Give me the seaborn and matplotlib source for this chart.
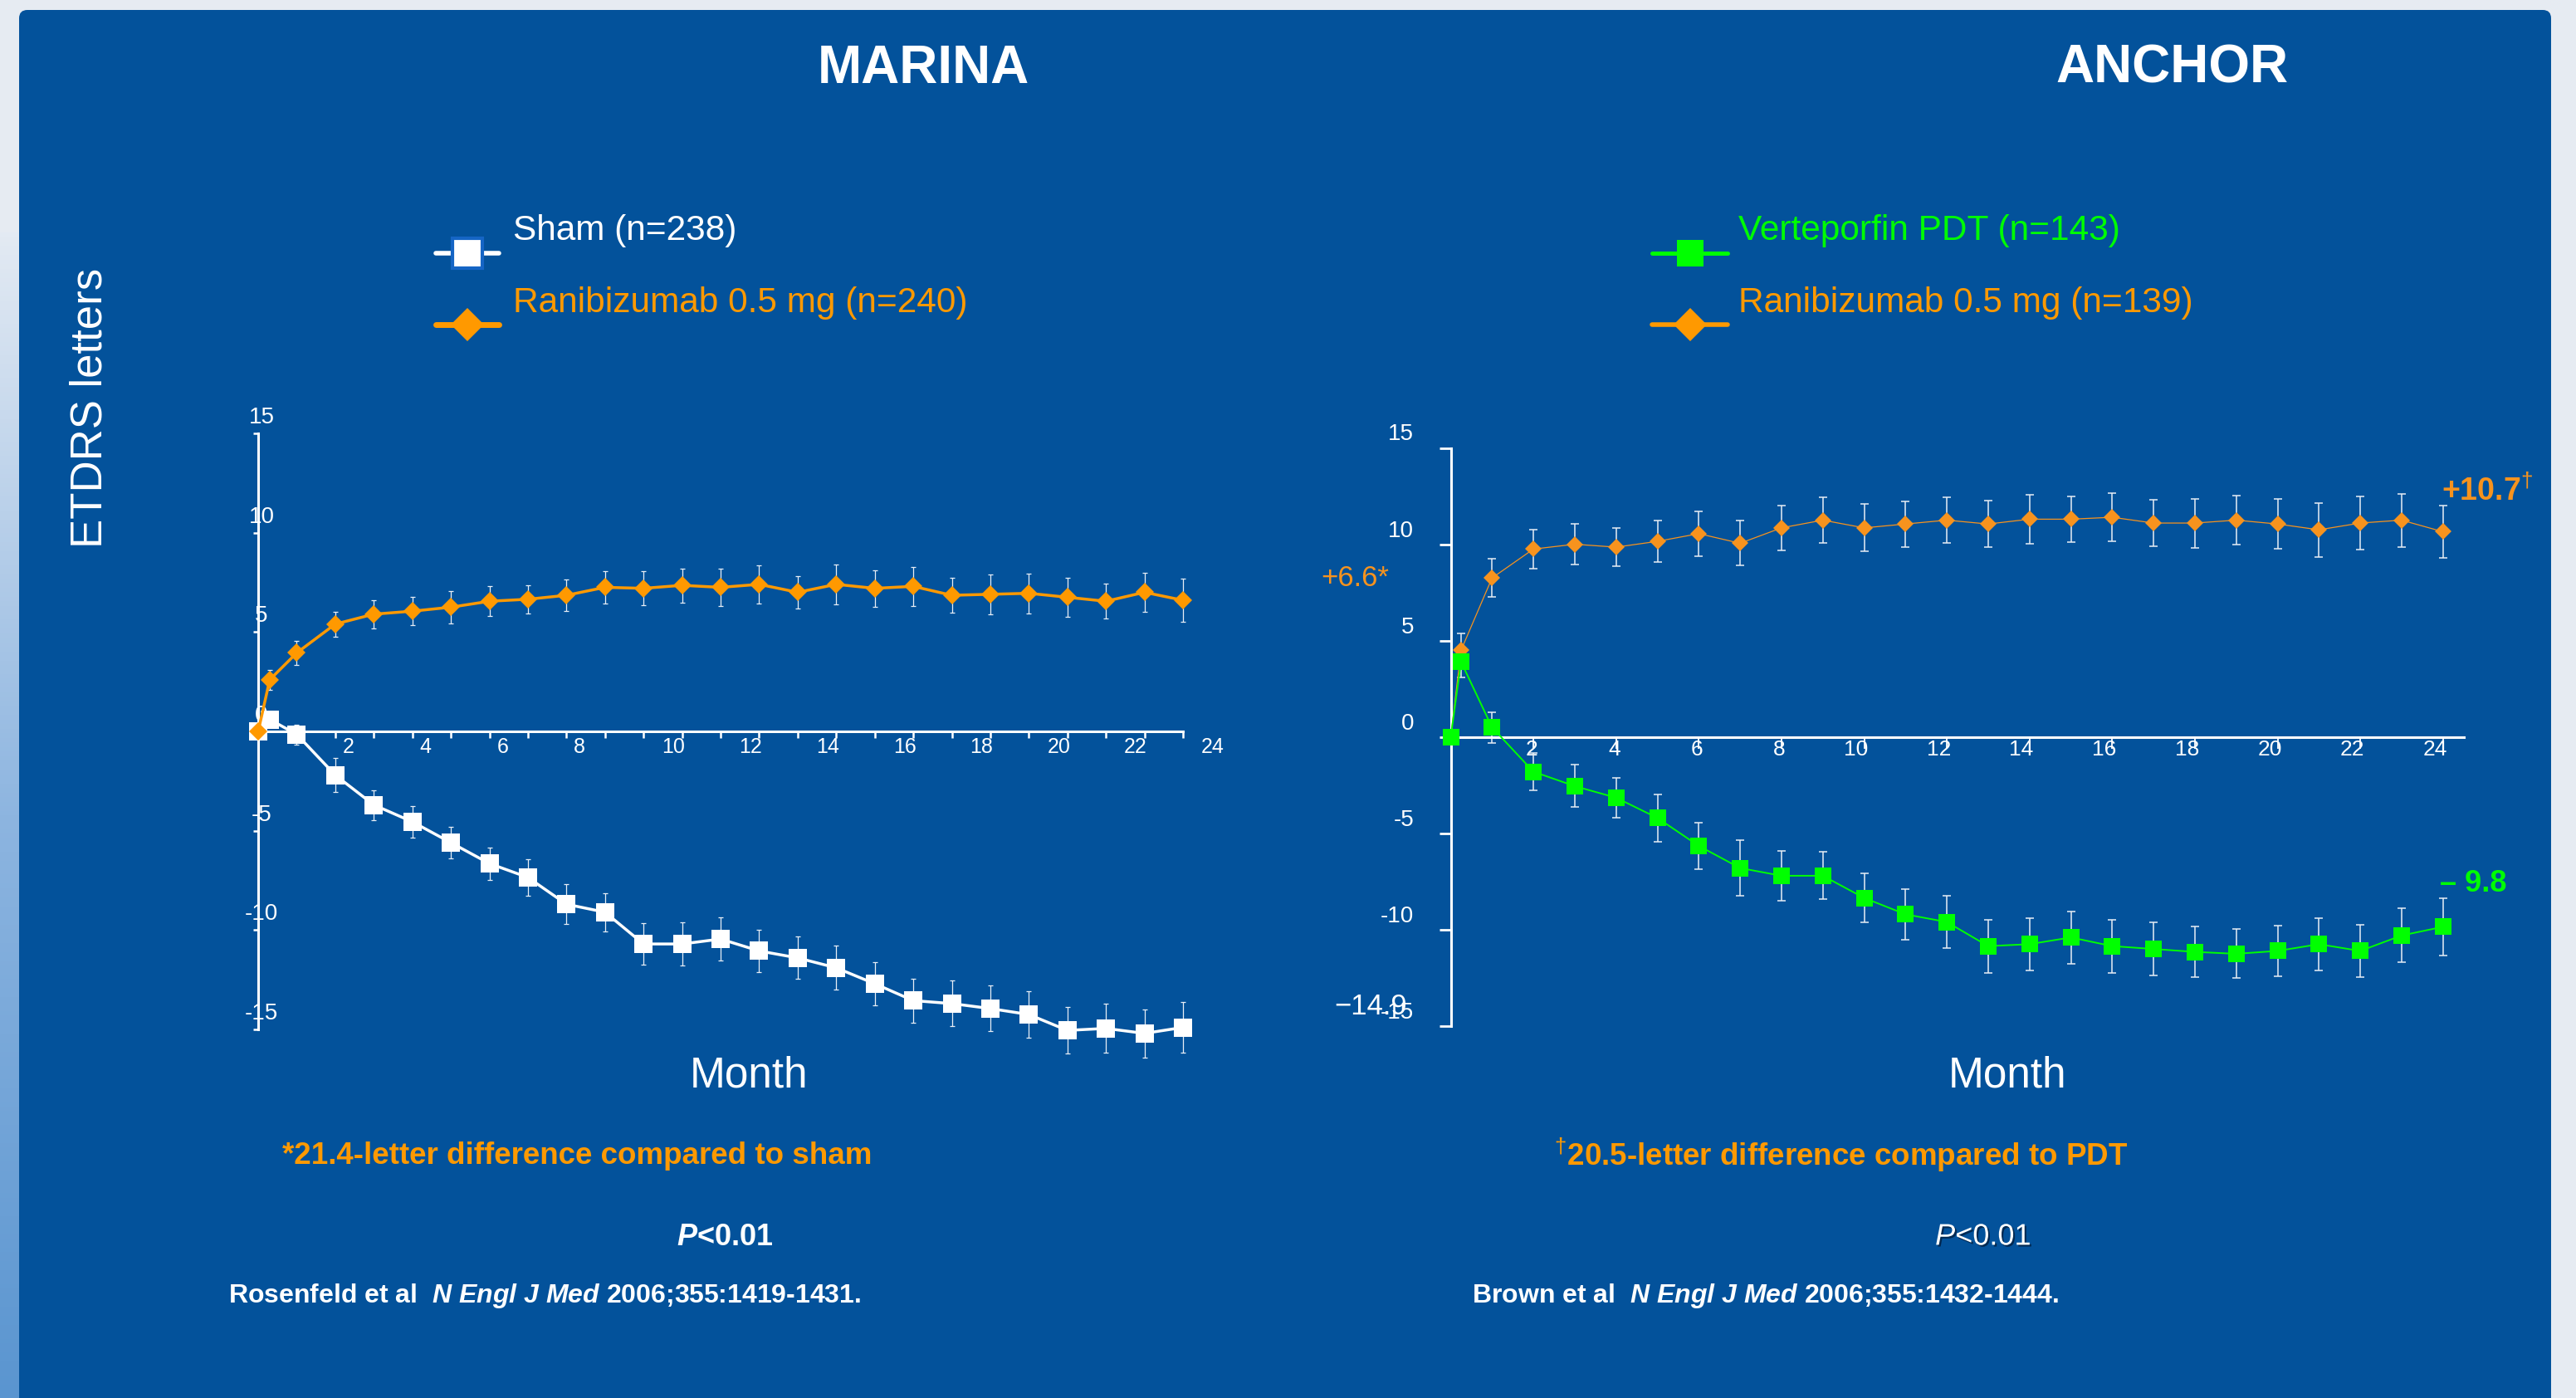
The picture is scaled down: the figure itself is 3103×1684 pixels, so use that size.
import matplotlib
matplotlib.use("Agg")
import matplotlib.patheffects as pe
import matplotlib.pyplot as plt
import numpy as np
import pandas as pd
import seaborn as sns
from matplotlib.colors import LinearSegmentedColormap
from matplotlib.legend_handler import HandlerLine2D
from matplotlib.lines import Line2D
from matplotlib.patches import FancyBboxPatch
from matplotlib.transforms import ScaledTranslation

W, H, DPI = 3103, 1684, 100

PANEL_BLUE = "#03529B"
ORANGE = "#FF9900"
ORANGE2 = "#F7931E"
GREEN = "#00FF00"
BAR_WHITE = "#E8EEF6"

# MARINA (mean change in VA, letters)
marina_months = [0, 0.3] + list(range(1, 25))
marina_sham = [0.0, 0.6, -0.15, -2.2, -3.7, -4.55, -5.6, -6.65, -7.35, -8.7, -9.1, -10.7, -10.7,
               -10.45, -11.05, -11.4, -11.9, -12.7, -13.55, -13.7, -13.95, -14.25, -15.05, -14.95,
               -15.2, -14.9]
marina_sham_err = [0.0, 0.4, 0.5, 0.85, 0.75, 0.8, 0.8, 0.82, 0.92, 1.0, 0.97, 1.03, 1.1, 1.07,
                   1.07, 1.07, 1.1, 1.1, 1.1, 1.15, 1.15, 1.18, 1.18, 1.24, 1.22, 1.27]
marina_rbz = [0.0, 2.6, 3.95, 5.4, 5.9, 6.05, 6.25, 6.55, 6.65, 6.85, 7.25, 7.2, 7.35, 7.25,
              7.4, 7.0, 7.4, 7.2, 7.3, 6.85, 6.9, 6.95, 6.75, 6.55, 7.0, 6.6]
marina_rbz_err = [0.0, 0.5, 0.6, 0.62, 0.72, 0.7, 0.8, 0.75, 0.7, 0.8, 0.8, 0.86, 0.86, 0.94,
                  0.97, 0.82, 1.0, 0.92, 0.99, 0.88, 1.0, 1.0, 1.0, 0.88, 1.0, 1.1]

# ANCHOR
anchor_months = [0, 0.25] + list(range(1, 25))
anchor_pdt = [0.0, 3.9, 0.5, -1.8, -2.55, -3.15, -4.2, -5.65, -6.8, -7.2, -7.2, -8.35, -9.2,
              -9.6, -10.85, -10.75, -10.4, -10.85, -11.0, -11.15, -11.25, -11.1, -10.75, -11.1,
              -10.3, -9.85]
anchor_pdt_err = [0.0, 0.8, 0.8, 0.95, 1.1, 1.05, 1.23, 1.19, 1.45, 1.3, 1.23, 1.27, 1.32, 1.36,
                  1.38, 1.36, 1.36, 1.38, 1.38, 1.3, 1.27, 1.32, 1.36, 1.36, 1.4, 1.47]
anchor_rbz = [0.0, 4.5, 8.25, 9.75, 10.0, 9.85, 10.15, 10.55, 10.05, 10.85, 11.25, 10.85, 11.05,
              11.25, 11.05, 11.3, 11.3, 11.4, 11.1, 11.1, 11.25, 11.05, 10.75, 11.1, 11.25, 10.65]
anchor_rbz_err = [0.0, 0.88, 0.99, 1.0, 1.05, 1.0, 1.08, 1.16, 1.16, 1.16, 1.2, 1.23, 1.19, 1.2,
                  1.2, 1.27, 1.19, 1.25, 1.19, 1.27, 1.27, 1.3, 1.4, 1.36, 1.38, 1.36]

y_ticks = [-15, -10, -5, 0, 5, 10, 15]
y_tick_labels = ["-15", "-10", "-5", "0", "5", "10", "15"]

sns.set_theme(style="white")
plt.rcParams["font.family"] = ["Liberation Sans", "DejaVu Sans"]
plt.rcParams["mathtext.fontset"] = "custom"
plt.rcParams["mathtext.rm"] = "Liberation Sans"
plt.rcParams["mathtext.it"] = "Liberation Sans:italic"
plt.rcParams["mathtext.bf"] = "Liberation Sans:bold"
plt.rcParams["mathtext.bfit"] = "Liberation Sans:italic:bold"


def fx(px):
    return px / W


def fy(py):
    return 1 - py / H


def shift(labels, dx_px, dy_px):
    for lab in labels:
        lab.set_transform(lab.get_transform()
                          + ScaledTranslation(dx_px / DPI, dy_px / DPI, fig.dpi_scale_trans))


class DroppedLine(HandlerLine2D):
    # legend symbol sits a bit below its label, as on the slide
    def create_artists(self, legend, orig_handle, xdescent, ydescent, width, height, fontsize, trans):
        return super().create_artists(legend, orig_handle, xdescent, ydescent + 1.44 * fontsize,
                                      width, height, fontsize, trans)


fig = plt.figure(figsize=(W / DPI, H / DPI), dpi=DPI, facecolor="#E6EBF2")

# slide background
bg = fig.add_axes([0, 0, 1, 1], zorder=-10)
strip = LinearSegmentedColormap.from_list("strip", ["#E3EAF3", "#8DB5E0", "#5A95D0"])
bg.imshow(np.linspace(0, 1, 256).reshape(-1, 1), extent=(0, 23, H, 280), cmap=strip, aspect="auto")
bg.add_patch(FancyBboxPatch((23, 12), 3050, H + 40, boxstyle="round,pad=0,rounding_size=10",
                            fc=PANEL_BLUE, ec="none"))
bg.set_xlim(0, W)
bg.set_ylim(H, 0)
bg.axis("off")


def style_axes(ax, xmax):
    ax.set_facecolor("none")
    ax.set_xlim(0, xmax)
    ax.set_ylim(-15, 15)
    for s in ["top", "right"]:
        ax.spines[s].set_visible(False)
    ax.spines["bottom"].set_position(("data", 0))
    for s in ["left", "bottom"]:
        ax.spines[s].set_color("white")
        ax.spines[s].set_linewidth(2.2)
    ax.set_xlabel("")
    ax.set_ylabel("")


def draw_series(ax, months, vals, errs, color, marker, ms, lw, bar_lw, cap):
    df = pd.DataFrame({"month": months, "value": vals, "err": errs})
    eb = df[df["err"] > 0]
    ax.errorbar(eb["month"], eb["value"], yerr=eb["err"], fmt="none", ecolor=BAR_WHITE,
                elinewidth=bar_lw, capsize=cap, capthick=bar_lw, zorder=2, clip_on=False)
    sns.lineplot(data=df, x="month", y="value", ax=ax, color=color, lw=lw, marker=marker,
                 markersize=ms, markeredgewidth=0, errorbar=None, zorder=3, clip_on=False)


# ---------------- MARINA ----------------
ax1 = fig.add_axes([fx(311), fy(1240), 1114 / W, 718 / H])
draw_series(ax1, marina_months, marina_sham, marina_sham_err, "white", "s", 16.5, 2.5, 0.9, 2.2)
draw_series(ax1, marina_months, marina_rbz, marina_rbz_err, ORANGE, "D", 11.7, 2.5, 0.9, 2.2)
style_axes(ax1, 24)
m_ticks = list(range(1, 25))
ax1.set_xticks(m_ticks)
ax1.set_xticklabels([str(m) if m % 2 == 0 else "" for m in m_ticks])
ax1.tick_params(axis="x", bottom=True, direction="out", length=5.8, width=1.8, color="white",
                labelcolor="white", labelsize=18, pad=-0.8)
ax1.set_yticks(y_ticks)
ax1.set_yticklabels(y_tick_labels)
ax1.tick_params(axis="y", left=True, direction="out", length=4.3, width=1.8, color="white",
                labelcolor="white", labelsize=20, pad=-7.2)
for lab in ax1.get_xticklabels():
    lab.set_horizontalalignment("left")
    shift([lab], 9 if len(lab.get_text()) == 1 else 22, 0)
for lab in ax1.get_yticklabels():
    lab.set_horizontalalignment("center")
shift(ax1.get_yticklabels(), 0, 22)

# ---------------- ANCHOR ----------------
ax2 = fig.add_axes([fx(1747.5), fy(1236), 24.5 * 49.8 / W, 696.5 / H])
draw_series(ax2, anchor_months, anchor_rbz, anchor_rbz_err, ORANGE2, "D", 10.5, 0.9, 1.1, 3.8)
draw_series(ax2, anchor_months, anchor_pdt, anchor_pdt_err, GREEN, "s", 14, 1.4, 1.1, 3.8)
style_axes(ax2, 24.5)
a_ticks = list(range(2, 25, 2))
ax2.set_xticks(a_ticks)
ax2.set_xticklabels([str(m) for m in a_ticks])
ax2.tick_params(axis="x", bottom=True, direction="out", length=10, width=1.3, color="white",
                labelcolor="white", labelsize=19, pad=-8)
ax2.set_yticks(y_ticks)
ax2.set_yticklabels(y_tick_labels)
ax2.tick_params(axis="y", left=True, direction="out", length=10, width=2, color="white",
                labelcolor="white", labelsize=20, pad=22)
for lab in ax2.get_xticklabels():
    lab.set_horizontalalignment("right")
shift(ax2.get_xticklabels(), 5, 0)
shift(ax2.get_yticklabels(), 0, 19)

ax2.annotate(r"+10.7$^{\dag}$", xy=(anchor_months[-1], anchor_rbz[-1]), xytext=(-1.4, 35),
             textcoords="offset points", ha="left", va="center", fontsize=27, weight="bold",
             color=ORANGE2, annotation_clip=False)
ax2.annotate("\u2013 9.8", xy=(anchor_months[-1], anchor_pdt[-1]), xytext=(-2.7, 37.5),
             textcoords="offset points", ha="left", va="center", fontsize=26, weight="bold",
             color=GREEN, annotation_clip=False)

# ---------------- legends ----------------
handler = {Line2D: DroppedLine()}
sham_h = Line2D([], [], color="white", lw=4, marker="s", markersize=26, markerfacecolor="white",
                markeredgecolor="#1565C5", markeredgewidth=3)
rbz_h = Line2D([], [], color=ORANGE, lw=5, marker="D", markersize=20, markeredgewidth=0)
pdt_h = Line2D([], [], color=GREEN, lw=3.6, marker="s", markersize=23, markeredgewidth=0)
rbz2_h = Line2D([], [], color=ORANGE, lw=4, marker="D", markersize=20, markeredgewidth=0)

leg1 = fig.legend([sham_h, rbz_h], ["Sham (n=238)", "Ranibizumab 0.5 mg (n=240)"],
                  loc="upper left", bbox_to_anchor=(fx(525), fy(258)), frameon=False, fontsize=30.5,
                  handlelength=1.8, handletextpad=0.4, labelspacing=1.1, borderpad=0,
                  borderaxespad=0, handler_map=handler)
for t, c in zip(leg1.get_texts(), ["white", ORANGE]):
    t.set_color(c)
leg2 = fig.legend([pdt_h, rbz2_h], ["Verteporfin PDT (n=143)", "Ranibizumab 0.5 mg (n=139)"],
                  loc="upper left", bbox_to_anchor=(fx(1990), fy(258)), frameon=False, fontsize=30.5,
                  handlelength=2.15, handletextpad=0.31, labelspacing=1.1, borderpad=0,
                  borderaxespad=0, handler_map=handler)
for t, c in zip(leg2.get_texts(), [GREEN, ORANGE]):
    t.set_color(c)

# ---------------- texts ----------------
fig.text(fx(1112), fy(83), "MARINA", ha="center", va="center", fontsize=46, weight="bold",
         color="white")
fig.text(fx(2616), fy(83), "ANCHOR", ha="center", va="center", fontsize=46, weight="bold",
         color="white")
fig.text(fx(109), fy(491), "ETDRS letters", rotation=90, ha="center", va="center", fontsize=38,
         color="white")
fig.text(fx(902), fy(1296), "Month", ha="center", va="center", fontsize=37, color="white")
fig.text(fx(2418), fy(1296), "Month", ha="center", va="center", fontsize=37, color="white")

fig.text(fx(1591), fy(697), "+6.6*", ha="left", va="center", fontsize=25, color=ORANGE2)
fig.text(fx(1695), fy(1213), "\u221214.9", ha="right", va="center", fontsize=25, color="white")

fig.text(fx(695), fy(1393), "*21.4-letter difference compared to sham", ha="center",
         va="center", fontsize=26.5, weight="bold", color=ORANGE)
fig.text(fx(2218), fy(1391), r"$^{\dag}$20.5-letter difference compared to PDT", ha="center",
         va="center", fontsize=26.5, weight="bold", color=ORANGE)

fig.text(fx(873), fy(1490), r"$\mathbfit{P}$<0.01", ha="center", va="center", fontsize=26,
         weight="bold", color="white")
fig.text(fx(2389), fy(1490), r"$\mathit{P}$<0.01", ha="center", va="center", fontsize=26,
         color="white",
         path_effects=[pe.SimplePatchShadow(offset=(1.5, -1.5), shadow_rgbFace="#01254A",
                                            alpha=0.9), pe.Normal()])

fig.text(fx(275), fy(1561), r"Rosenfeld et al  $\mathbfit{N\ Engl\ J\ Med}$ 2006;355:1419-1431.",
         ha="left", va="center", fontsize=23, weight="bold", color="white")
fig.text(fx(1773), fy(1561), r"Brown et al  $\mathbfit{N\ Engl\ J\ Med}$ 2006;355:1432-1444.",
         ha="left", va="center", fontsize=23, weight="bold", color="white")

fig.savefig("out.png", dpi=DPI, facecolor=fig.get_facecolor())
